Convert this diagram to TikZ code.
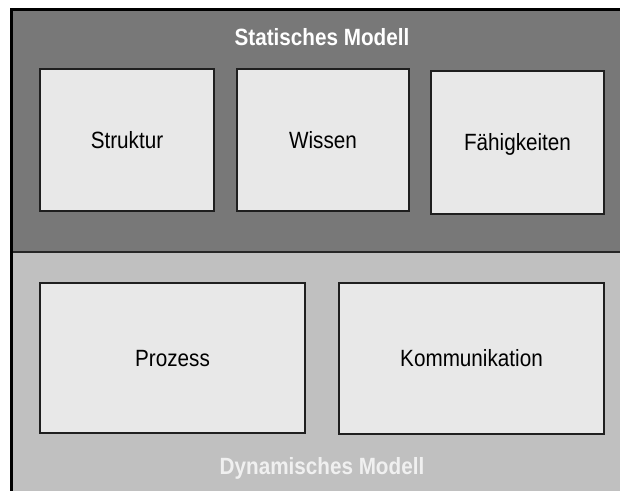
\documentclass[tikz,border=0pt]{standalone}
\usepackage{fontspec}
\setmainfont[FakeStretch=0.88]{Liberation Sans}
\begin{document}
\begin{tikzpicture}[x=1pt,y=-1pt,
  box/.style={draw=black!88, line width=2pt, fill=boxfill, inner sep=0pt,
    font=\fontsize{23.5}{26}\selectfont, text=black, text height=17pt, text depth=0pt},
  title/.style={font=\fontsize{23.5}{26}\selectfont\bfseries, inner sep=0pt,
    text height=17pt, text depth=0pt}]
\definecolor{darkband}{HTML}{787878}
\definecolor{lightband}{HTML}{C0C0C0}
\definecolor{boxfill}{HTML}{E8E8E8}
\useasboundingbox (0,0) rectangle (620,490);
\clip (0,0) rectangle (620,490);
\fill[white] (0,0) rectangle (620,490);
\fill[darkband] (11.5,9.5) rectangle (630,252);
\fill[lightband] (11.5,252) rectangle (630,500);
\draw[black!85, line width=2pt] (11.5,252) -- (630,252);
\draw[black, line width=3pt] (11.5,505) -- (11.5,9.5) -- (630,9.5);
\node[title, text=white] (stat) at (322,37) {Statisches Modell};
\node[title, text=white!94!black] (dyn) at (322,466) {Dynamisches Modell};
\node[box, minimum width=174pt, minimum height=142pt] (struktur) at (127,140) {Struktur};
\node[box, minimum width=172pt, minimum height=142pt] (wissen) at (323,140) {Wissen};
\node[box, minimum width=173pt, minimum height=143pt] (faeh) at (517.5,142) {Fähigkeiten};
\node[box, minimum width=265pt, minimum height=150pt] (prozess) at (172.5,358) {Prozess};
\node[box, minimum width=265pt, minimum height=151pt] (komm) at (471.5,358) {Kommunikation};
\end{tikzpicture}
\end{document}
